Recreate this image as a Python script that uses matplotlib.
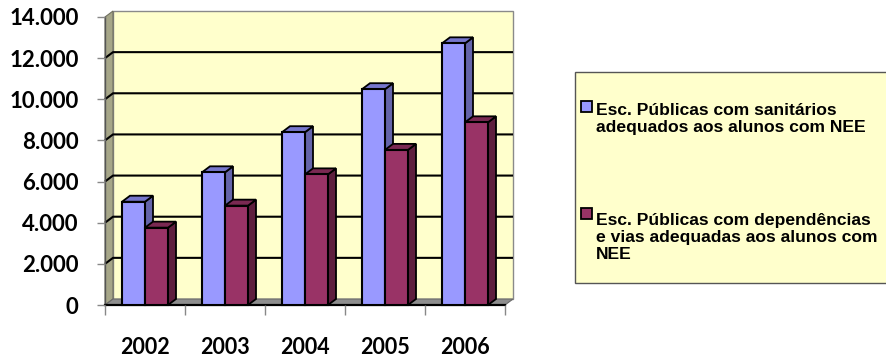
import matplotlib
matplotlib.use("Agg")
import matplotlib.pyplot as plt
from matplotlib.patches import Polygon, Rectangle
from matplotlib.ticker import FuncFormatter
import numpy as np

years = ["2002", "2003", "2004", "2005", "2006"]
sanitarios = [5020, 6450, 8400, 10490, 12720]
dependencias = [3760, 4830, 6350, 7540, 8880]
series_labels = [
    "Esc. Públicas com sanitários\nadequados aos alunos com NEE",
    "Esc. Públicas com dependências\ne vias adequadas aos alunos com\nNEE",
]
yticks = [0, 2000, 4000, 6000, 8000, 10000, 12000, 14000]

W, H = 886, 357
fig = plt.figure(figsize=(W / 100, H / 100), dpi=100)
fig.patch.set_facecolor("white")

ax = fig.add_axes([105 / W, 52 / H, 400 / W, 288 / H])
ax.set_xlim(0, len(years))
ax.set_ylim(0, 14000)
ax.set_facecolor("none")
for s in ax.spines.values():
    s.set_visible(False)

# depth offset in data units (8 px right, 6 px up)
dx = 8 * len(years) / 400
dy = 6 * 14000 / 288
ymax = 14000
n = len(years)

# back wall
ax.add_patch(Polygon([(dx, dy), (n + dx, dy), (n + dx, ymax + dy), (dx, ymax + dy)],
                     closed=True, facecolor="#FFFFCC", edgecolor="#8a8a8a", lw=1.0,
                     zorder=0, clip_on=False))
# left wall
ax.add_patch(Polygon([(0, 0), (dx, dy), (dx, ymax + dy), (0, ymax)],
                     closed=True, facecolor="#A6A688", edgecolor="#707060", lw=0.8,
                     zorder=0.5, clip_on=False))
# floor
ax.add_patch(Polygon([(0, 0), (n, 0), (n + dx, dy), (dx, dy)],
                     closed=True, facecolor="#8E8E8E", edgecolor="#6a6a6a", lw=0.8,
                     zorder=0.6, clip_on=False))

# gridlines (left wall slant + back wall)
for v in yticks[1:-1]:
    ax.plot([0, dx, n + dx], [v, v + dy, v + dy], color="black", lw=1.5,
            zorder=1, clip_on=False, solid_capstyle="butt")

# front axis lines
ax.plot([0, 0], [0, ymax], color="#555555", lw=1.0, zorder=1.2, clip_on=False)
ax.plot([0, n], [0, 0], color="black", lw=1.6, zorder=1.2, clip_on=False)

bw = 23 / 80
series = [
    (sanitarios, "#9999FF", "#6464AA", "#7676CC", -bw),
    (dependencias, "#993366", "#5E1F3E", "#7A2952", 0.0),
]
z = 2
centers = np.arange(n) + 0.5
for i, c in enumerate(centers):
    for vals, front, side, top, off in series:
        h = vals[i]
        x0 = c + off
        x1 = x0 + bw
        ax.add_patch(Polygon([(x1, 0), (x1 + dx, dy), (x1 + dx, h + dy), (x1, h)],
                             closed=True, facecolor=side, edgecolor="black", lw=1.3,
                             zorder=z, clip_on=False, joinstyle="miter"))
        ax.add_patch(Polygon([(x0, h), (x1, h), (x1 + dx, h + dy), (x0 + dx, h + dy)],
                             closed=True, facecolor=top, edgecolor="black", lw=1.3,
                             zorder=z, clip_on=False, joinstyle="miter"))
        ax.bar(x0, h, width=bw, align="edge", color=front, edgecolor="black",
               lw=1.5, zorder=z + 0.1, clip_on=False)
        z += 0.2

# y ticks
ax.set_yticks(yticks)
ax.yaxis.set_major_formatter(FuncFormatter(lambda v, p: f"{int(v):,}".replace(",", ".")))
ax.tick_params(axis="y", direction="out", length=6, width=1.0, color="#888888", pad=13)
for lab in ax.get_yticklabels():
    lab.set_fontfamily("Lato")
    lab.set_fontweight("bold")
    lab.set_fontsize(16)

# x ticks: boundaries as major ticks, labels at centers via minor ticks
ax.set_xticks(np.arange(n + 1))
ax.set_xticklabels([""] * (n + 1))
ax.set_xticks(centers, minor=True)
ax.set_xticklabels(years, minor=True)
ax.tick_params(axis="x", which="major", direction="out", length=7, width=1.0, color="#888888")
ax.tick_params(axis="x", which="minor", length=0, pad=23)
for lab in ax.get_xticklabels(minor=True):
    lab.set_fontfamily("Lato")
    lab.set_fontweight("bold")
    lab.set_fontsize(15.5)

# legend box
fig.patches.append(Rectangle((575 / W, 1 - 283 / H), (W - 575 + 20) / W, 211 / H,
                             transform=fig.transFigure, facecolor="#FFFFCC",
                             edgecolor="#555555", lw=1.0, zorder=0))
colors = ["#9999FF", "#993366"]
first_baselines = [112, 219]
line_step = 20
for lbl, col, yb in zip(series_labels, colors, first_baselines):
    nlines = lbl.count("\n") + 1
    fig.patches.append(Rectangle((581 / W, 1 - yb / H), 11 / W, 11 / H,
                                 transform=fig.transFigure, facecolor=col,
                                 edgecolor="black", lw=1.3, zorder=1))
    last_base = yb + line_step * (nlines - 1)
    fig.text(596 / W, 1 - last_base / H, lbl, ha="left", va="baseline",
             fontfamily="Liberation Sans", fontweight="bold", fontsize=12.6,
             linespacing=1.16, color="black")

fig.savefig("out.png", dpi=100)
